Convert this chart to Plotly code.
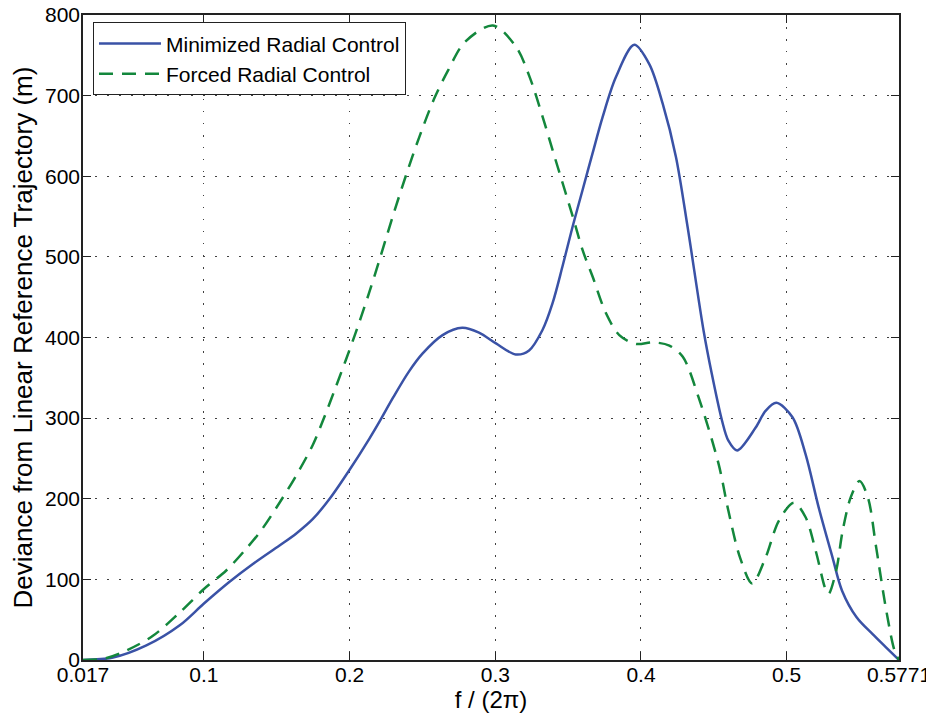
import plotly.graph_objects as go

# Minimized Radial Control (solid blue)
blue_x = [0.017, 0.0376, 0.0605, 0.0834, 0.1, 0.1176, 0.1336, 0.1519, 0.1634, 0.1748,
          0.1863, 0.2, 0.2137, 0.2206, 0.23, 0.2408, 0.25, 0.2638, 0.2773, 0.2888,
          0.3002, 0.314, 0.3232, 0.3323, 0.3392, 0.3461, 0.353, 0.3599, 0.3667, 0.3736,
          0.3828, 0.3954, 0.4057, 0.4149, 0.424, 0.432, 0.443, 0.4487, 0.4556, 0.460,
          0.466, 0.4786, 0.4855, 0.4929, 0.504, 0.513, 0.522, 0.5315, 0.538, 0.548,
          0.559, 0.568, 0.5771]
blue_y = [0, 3, 18, 43, 70, 97, 119, 142, 157, 175,
          200, 236, 275, 296, 326, 358, 380, 403, 412, 406,
          393, 379, 384, 409, 442, 488, 537, 583, 628, 673,
          723, 763, 739, 690, 624, 537, 408, 354, 297, 272,
          260, 288, 309, 319, 301, 255, 189, 127, 86, 53,
          32, 16, 0]

# Forced Radial Control (dashed green)
green_x = [0.017, 0.032, 0.047, 0.065, 0.0834, 0.1, 0.1153, 0.129, 0.1394, 0.1519,
           0.1634, 0.1748, 0.1817, 0.1908, 0.2034, 0.2133, 0.2213, 0.2294, 0.2385, 0.2477,
           0.258, 0.2675, 0.2789, 0.2984, 0.3144, 0.3236, 0.3326, 0.3394, 0.3463, 0.3532,
           0.360, 0.3669, 0.376, 0.3851, 0.3966, 0.408, 0.4195, 0.4287, 0.4395, 0.4533,
           0.460, 0.468, 0.4763, 0.4855, 0.4947, 0.505, 0.513, 0.520, 0.527, 0.5288,
           0.534, 0.5384, 0.544, 0.55, 0.5557, 0.5614, 0.5684, 0.574, 0.5771]
green_y = [0, 2, 12, 30, 59, 88, 111, 138, 161, 195,
           229, 267, 297, 340, 402, 455, 501, 549, 600, 648,
           696, 731, 766, 787, 760, 723, 673, 632, 591, 550,
           508, 475, 430, 403, 392, 394, 390, 376, 326, 243,
           185, 127, 95, 127, 173, 195, 177, 135, 86, 82,
           111, 160, 202, 222, 202, 140, 61, 12, 0]

x_ticks = [0.017, 0.1, 0.2, 0.3, 0.4, 0.5, 0.5771]
x_tick_text = ["0.017", "0.1", "0.2", "0.3", "0.4", "0.5", "0.5771"]
y_ticks = [0, 100, 200, 300, 400, 500, 600, 700, 800]

FONT = "Liberation Sans, Arial, Helvetica, sans-serif"

fig = go.Figure()
fig.add_trace(go.Scatter(
    x=blue_x, y=blue_y, mode="lines", name="Minimized Radial Control",
    line=dict(color="#3a52a6", width=2.5, shape="spline", smoothing=0.9),
))
fig.add_trace(go.Scatter(
    x=green_x, y=green_y, mode="lines", name="Forced Radial Control",
    line=dict(color="#13873c", width=2.5, dash="14px,9px", shape="spline", smoothing=0.9),
))

axis_common = dict(
    showline=True, linecolor="#222222", linewidth=1.5, mirror="ticks",
    ticks="inside", ticklen=8, tickcolor="#222222", tickwidth=1,
    showgrid=True, gridcolor="#404040", gridwidth=1, griddash="1.5px,10.5px",
    zeroline=False, automargin=False, ticklabeloverflow="allow",
    tickfont=dict(family=FONT, size=21, color="black"),
)

# The page body has an 8px default margin, so the figure is sized/offset to compensate.
fig.update_layout(
    width=926, height=711,
    margin=dict(l=75, r=35, t=7, b=59),
    paper_bgcolor="white", plot_bgcolor="white",
    font=dict(family=FONT, color="black"),
    xaxis=dict(range=[0.017, 0.5771], tickvals=x_ticks, ticktext=x_tick_text,
               ticklabelstandoff=-5,
               title=dict(text="f / (2π)", font=dict(family=FONT, size=24), standoff=6),
               **axis_common),
    yaxis=dict(range=[0, 800], tickvals=y_ticks, ticklabelstandoff=-3,
               title=dict(text="Deviance from Linear Reference Trajectory (m)",
                          font=dict(family=FONT, size=26), standoff=8),
               **axis_common),
    legend=dict(x=0.012, y=0.989, xanchor="left", yanchor="top",
                bgcolor="white", bordercolor="#222222", borderwidth=1.2,
                font=dict(family=FONT, size=21, color="black"),
                itemwidth=62, tracegroupgap=0),
    showlegend=True,
)

fig.write_html("out.html")
